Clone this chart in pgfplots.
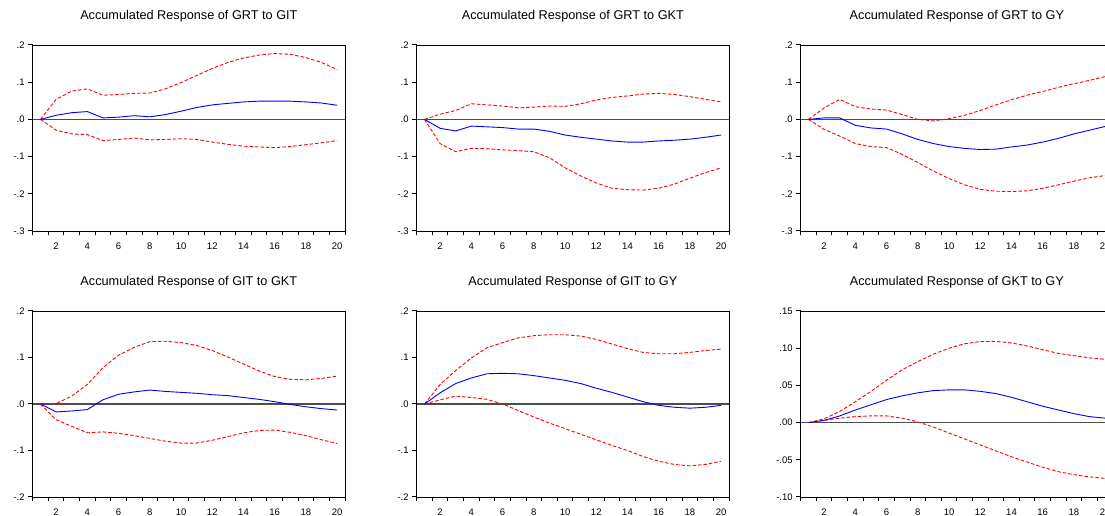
\documentclass[border=0pt]{standalone}
\usepackage{fontspec}
\setmainfont{Liberation Sans}
\usepackage{pgfplots}
\usepackage{pgfplotstable}
\pgfplotsset{compat=1.18}

% columns: period, response, upper band, lower band
\pgfplotstableread{
k irf up lo
1 0 0 0
2 0.011 0.054 -0.029
3 0.018 0.076 -0.039
4 0.021 0.082 -0.041
5 0.004 0.065 -0.057
6 0.006 0.067 -0.054
7 0.010 0.070 -0.050
8 0.007 0.071 -0.055
9 0.013 0.082 -0.054
10 0.022 0.099 -0.052
11 0.032 0.118 -0.054
12 0.039 0.137 -0.061
13 0.043 0.153 -0.067
14 0.047 0.165 -0.072
15 0.049 0.173 -0.074
16 0.049 0.177 -0.076
17 0.049 0.175 -0.073
18 0.047 0.166 -0.068
19 0.044 0.153 -0.063
20 0.038 0.134 -0.057
}\grtgit

\pgfplotstableread{
k irf up lo
1 0 0 0
2 -0.024 0.014 -0.065
3 -0.031 0.024 -0.087
4 -0.018 0.042 -0.078
5 -0.020 0.039 -0.079
6 -0.022 0.036 -0.082
7 -0.026 0.031 -0.084
8 -0.026 0.033 -0.087
9 -0.032 0.036 -0.103
10 -0.042 0.035 -0.130
11 -0.048 0.042 -0.152
12 -0.053 0.052 -0.171
13 -0.058 0.059 -0.185
14 -0.061 0.063 -0.189
15 -0.061 0.068 -0.190
16 -0.058 0.070 -0.185
17 -0.056 0.067 -0.174
18 -0.053 0.061 -0.158
19 -0.048 0.054 -0.143
20 -0.042 0.047 -0.130
}\grtgkt

\pgfplotstableread{
k irf up lo
1 0 0 0
2 0.004 0.031 -0.027
3 0.004 0.054 -0.045
4 -0.016 0.034 -0.065
5 -0.023 0.028 -0.073
6 -0.026 0.025 -0.076
7 -0.039 0.013 -0.094
8 -0.054 0.000 -0.116
9 -0.065 -0.004 -0.139
10 -0.073 0.002 -0.159
11 -0.078 0.011 -0.176
12 -0.081 0.024 -0.188
13 -0.080 0.039 -0.193
14 -0.074 0.053 -0.194
15 -0.069 0.065 -0.192
16 -0.061 0.075 -0.185
17 -0.051 0.086 -0.176
18 -0.039 0.096 -0.166
19 -0.029 0.105 -0.157
20 -0.019 0.115 -0.151
}\grtgy

\pgfplotstableread{
k irf up lo
1 0 0 0
2 -0.017 0.001 -0.034
3 -0.015 0.017 -0.048
4 -0.012 0.042 -0.062
5 0.009 0.078 -0.060
6 0.021 0.105 -0.063
7 0.026 0.122 -0.068
8 0.030 0.134 -0.074
9 0.027 0.135 -0.080
10 0.025 0.132 -0.084
11 0.023 0.126 -0.084
12 0.020 0.115 -0.078
13 0.018 0.101 -0.070
14 0.014 0.086 -0.062
15 0.010 0.071 -0.057
16 0.005 0.059 -0.056
17 -0.001 0.053 -0.061
18 -0.006 0.052 -0.068
19 -0.010 0.055 -0.077
20 -0.013 0.060 -0.085
}\gitgkt

\pgfplotstableread{
k irf up lo
1 0 0 0
2 0.024 0.042 0.009
3 0.044 0.072 0.017
4 0.056 0.099 0.014
5 0.065 0.121 0.010
6 0.066 0.132 0.000
7 0.065 0.142 -0.014
8 0.061 0.147 -0.028
9 0.056 0.149 -0.041
10 0.051 0.149 -0.053
11 0.044 0.146 -0.065
12 0.034 0.139 -0.077
13 0.025 0.129 -0.089
14 0.015 0.119 -0.100
15 0.005 0.111 -0.113
16 -0.003 0.108 -0.123
17 -0.007 0.108 -0.130
18 -0.009 0.111 -0.133
19 -0.007 0.115 -0.130
20 -0.003 0.118 -0.123
}\gitgy

\pgfplotstableread{
k irf up lo
1 0 0 0
2 0.003 0.005 0.003
3 0.009 0.015 0.006
4 0.017 0.028 0.008
5 0.024 0.042 0.009
6 0.031 0.057 0.009
7 0.036 0.071 0.006
8 0.040 0.082 0.001
9 0.043 0.092 -0.006
10 0.044 0.100 -0.014
11 0.044 0.106 -0.022
12 0.042 0.109 -0.030
13 0.039 0.109 -0.038
14 0.034 0.107 -0.046
15 0.028 0.103 -0.053
16 0.022 0.098 -0.060
17 0.017 0.093 -0.066
18 0.012 0.090 -0.070
19 0.008 0.087 -0.073
20 0.006 0.085 -0.075
}\gktgy

% ticks sit between periods; each label is pulled back half a period
\pgfplotsset{
  irf/.style={
    scale only axis, width=312.3pt, height=186pt, anchor=north west,
    xmin=0.5, xmax=20.5,
    axis line style={line width=0.9pt},
    every tick/.style={black, line width=1pt},
    tick align=outside, xtick pos=bottom, ytick pos=left,
    major tick length=4.5pt,
    xtick={0.5,1.5,...,20.5},
    xticklabels={,,2,,4,,6,,8,,10,,12,,14,,16,,18,,20},
    xticklabel style={xshift=-7.81pt, yshift=-3.5pt},
    tick label style={font=\fontsize{9.5}{10}\selectfont},
    title style={font=\fontsize{12.7}{14}\selectfont, at={(0.5,1)}, anchor=base, yshift=19.3pt},
  },
  big/.style={ymin=-0.3, ymax=0.2, ytick={-0.3,-0.2,...,0.2},
    yticklabels={-.3,-.2,-.1,.0,.1,.2}},
  mid/.style={ymin=-0.2, ymax=0.2, ytick={-0.2,-0.1,...,0.2},
    yticklabels={-.2,-.1,.0,.1,.2}},
  resp/.style={blue, line width=0.9pt},
  band/.style={red, line width=0.9pt, dash pattern=on 3.5pt off 2pt},
  zero/.style={black!70, line width=1.1pt},
}

\begin{document}
\begin{tikzpicture}
\path[use as bounding box] (0,0) rectangle (1105pt,516pt);
\clip (0,0) rectangle (1105pt,516pt);

\begin{axis}[irf, big, at={(32.7pt,471pt)}, title={Accumulated Response of GRT to GIT}]
  \addplot[zero] coordinates {(0.5,0) (20.5,0)};
  \addplot[band] table[x=k, y=up] {\grtgit};
  \addplot[band] table[x=k, y=lo] {\grtgit};
  \addplot[resp] table[x=k, y=irf] {\grtgit};
\end{axis}

\begin{axis}[irf, big, at={(416.7pt,471pt)}, title={Accumulated Response of GRT to GKT}]
  \addplot[zero] coordinates {(0.5,0) (20.5,0)};
  \addplot[band] table[x=k, y=up] {\grtgkt};
  \addplot[band] table[x=k, y=lo] {\grtgkt};
  \addplot[resp] table[x=k, y=irf] {\grtgkt};
\end{axis}

\begin{axis}[irf, big, at={(800.7pt,471pt)}, title={Accumulated Response of GRT to GY}]
  \addplot[zero] coordinates {(0.5,0) (20.5,0)};
  \addplot[band] table[x=k, y=up] {\grtgy};
  \addplot[band] table[x=k, y=lo] {\grtgy};
  \addplot[resp] table[x=k, y=irf] {\grtgy};
\end{axis}

\begin{axis}[irf, mid, at={(32.7pt,205pt)}, title={Accumulated Response of GIT to GKT}]
  \addplot[zero] coordinates {(0.5,0) (20.5,0)};
  \addplot[band] table[x=k, y=up] {\gitgkt};
  \addplot[band] table[x=k, y=lo] {\gitgkt};
  \addplot[resp] table[x=k, y=irf] {\gitgkt};
\end{axis}

\begin{axis}[irf, mid, at={(416.7pt,205pt)}, title={Accumulated Response of GIT to GY}]
  \addplot[zero] coordinates {(0.5,0) (20.5,0)};
  \addplot[band] table[x=k, y=up] {\gitgy};
  \addplot[band] table[x=k, y=lo] {\gitgy};
  \addplot[resp] table[x=k, y=irf] {\gitgy};
\end{axis}

\begin{axis}[irf, at={(800.7pt,205pt)}, title={Accumulated Response of GKT to GY},
    ymin=-0.1, ymax=0.15, ytick={-0.1,-0.05,0,0.05,0.1,0.15},
    yticklabels={-.10,-.05,.00,.05,.10,.15}]
  \addplot[zero] coordinates {(0.5,0) (20.5,0)};
  \addplot[band] table[x=k, y=up] {\gktgy};
  \addplot[band] table[x=k, y=lo] {\gktgy};
  \addplot[resp] table[x=k, y=irf] {\gktgy};
\end{axis}
\end{tikzpicture}
\end{document}
